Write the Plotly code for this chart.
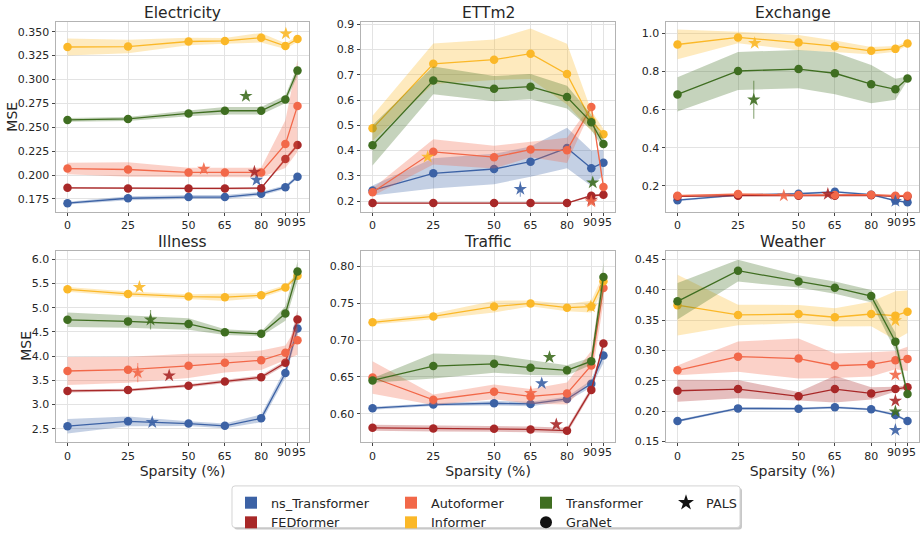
import plotly.graph_objects as go

# ---------------- data ----------------
sparsity = [0, 25, 50, 65, 80, 90, 95]
sparsity_labels = ["0", "25", "50", "65", "80", "90", "95"]
models = ["ns_Transformer", "FEDformer", "Autoformer", "Informer", "Transformer"]
datasets = ["Electricity", "ETTm2", "Exchange", "Illness", "Traffic", "Weather"]

electricity_mean = {
    "ns_Transformer": [0.1706, 0.1757, 0.1770, 0.1770, 0.1805, 0.1873, 0.1983],
    "FEDformer": [0.1866, 0.1860, 0.1860, 0.1860, 0.1863, 0.2167, 0.2314],
    "Autoformer": [0.2068, 0.2058, 0.2027, 0.2027, 0.2027, 0.2324, 0.2724],
    "Informer": [0.3340, 0.3345, 0.3398, 0.3404, 0.3438, 0.3350, 0.3425],
    "Transformer": [0.2577, 0.2587, 0.2645, 0.2673, 0.2673, 0.2792, 0.3093],
}
electricity_std = {
    "ns_Transformer": [0.0015, 0.002, 0.002, 0.002, 0.002, 0.002, 0.002],
    "FEDformer": [0.001, 0.001, 0.001, 0.001, 0.001, 0.002, 0.002],
    "Autoformer": [0.006, 0.0075, 0.005, 0.005, 0.005, 0.025, 0.048],
    "Informer": [0.009, 0.007, 0.004, 0.003, 0.005, 0.003, 0.003],
    "Transformer": [0.002, 0.002, 0.003, 0.004, 0.004, 0.004, 0.005],
}
electricity_pals_x = [78.1, 77.2, 56.3, 90.2, 73.7]
electricity_pals_y = [0.1948, 0.2034, 0.2064, 0.3480, 0.2827]
electricity_pals_err = [0, 0, 0, 0, 0]

ettm2_mean = {
    "ns_Transformer": [0.242, 0.310, 0.327, 0.356, 0.410, 0.330, 0.352],
    "FEDformer": [0.192, 0.192, 0.192, 0.192, 0.192, 0.221, 0.225],
    "Autoformer": [0.235, 0.395, 0.374, 0.404, 0.401, 0.573, 0.256],
    "Informer": [0.488, 0.744, 0.760, 0.784, 0.703, 0.518, 0.465],
    "Transformer": [0.421, 0.678, 0.645, 0.653, 0.612, 0.512, 0.426],
}
ettm2_std = {
    "ns_Transformer": [0.02, 0.06, 0.06, 0.06, 0.08, 0.07, 0.05],
    "FEDformer": [0.002, 0.002, 0.002, 0.002, 0.002, 0.005, 0.004],
    "Autoformer": [0.015, 0.05, 0.045, 0.03, 0.05, 0.01, 0.01],
    "Informer": [0.05, 0.08, 0.08, 0.10, 0.12, 0.04, 0.02],
    "Transformer": [0.08, 0.055, 0.05, 0.05, 0.045, 0.03, 0.02],
}
ettm2_pals_x = [60.8, 90.0, 90.0, 22.7, 90.6]
ettm2_pals_y = [0.247, 0.204, 0.198, 0.375, 0.273]
ettm2_pals_err = [0.03, 0, 0, 0, 0]

exchange_mean = {
    "ns_Transformer": [0.125, 0.152, 0.159, 0.169, 0.154, 0.123, 0.114],
    "FEDformer": [0.145, 0.149, 0.149, 0.149, 0.151, 0.145, 0.145],
    "Autoformer": [0.149, 0.157, 0.152, 0.152, 0.154, 0.149, 0.149],
    "Informer": [0.942, 0.979, 0.952, 0.933, 0.909, 0.919, 0.947],
    "Transformer": [0.680, 0.803, 0.813, 0.791, 0.734, 0.707, 0.764],
}
exchange_std = {
    "ns_Transformer": [0.005, 0.005, 0.005, 0.005, 0.005, 0.005, 0.005],
    "FEDformer": [0.003, 0.003, 0.003, 0.003, 0.003, 0.003, 0.003],
    "Autoformer": [0.004, 0.004, 0.004, 0.004, 0.004, 0.004, 0.004],
    "Informer": [0.078, 0.03, 0.04, 0.03, 0.02, 0.015, 0.01],
    "Transformer": [0.09, 0.10, 0.10, 0.11, 0.10, 0.055, 0.01],
}
exchange_pals_x = [90.0, 62.1, 43.9, 31.9, 31.5]
exchange_pals_y = [0.120, 0.157, 0.149, 0.949, 0.652]
exchange_pals_err = [0, 0, 0, 0, 0.10]

illness_mean = {
    "ns_Transformer": [2.554, 2.655, 2.608, 2.561, 2.716, 3.653, 4.570],
    "FEDformer": [3.282, 3.300, 3.390, 3.478, 3.566, 3.862, 4.759],
    "Autoformer": [3.694, 3.721, 3.802, 3.862, 3.916, 4.071, 4.328],
    "Informer": [5.380, 5.285, 5.231, 5.218, 5.258, 5.420, 5.663],
    "Transformer": [4.752, 4.719, 4.665, 4.496, 4.462, 4.880, 5.750],
}
illness_std = {
    "ns_Transformer": [0.15, 0.10, 0.05, 0.05, 0.08, 0.10, 0.10],
    "FEDformer": [0.03, 0.03, 0.03, 0.03, 0.04, 0.05, 0.20],
    "Autoformer": [0.29, 0.27, 0.25, 0.20, 0.20, 0.15, 0.30],
    "Informer": [0.05, 0.05, 0.05, 0.08, 0.05, 0.05, 0.05],
    "Transformer": [0.15, 0.13, 0.12, 0.06, 0.05, 0.15, 0.20],
}
illness_pals_x = [35.0, 42.0, 29.0, 29.7, 34.3]
illness_pals_y = [2.635, 3.600, 3.660, 5.427, 4.752]
illness_pals_err = [0, 0, 0.2, 0, 0.2]

traffic_mean = {
    "ns_Transformer": [0.6075, 0.6124, 0.6142, 0.6133, 0.6200, 0.6408, 0.6790],
    "FEDformer": [0.5809, 0.5800, 0.5796, 0.5787, 0.5770, 0.6324, 0.6953],
    "Autoformer": [0.6492, 0.6190, 0.6297, 0.6235, 0.6275, 0.6656, 0.7707],
    "Informer": [0.7242, 0.7322, 0.7455, 0.7499, 0.7441, 0.7455, 0.7800],
    "Transformer": [0.6452, 0.6647, 0.6678, 0.6625, 0.6590, 0.6714, 0.7858],
}
traffic_std = {
    "ns_Transformer": [0.002, 0.002, 0.003, 0.003, 0.003, 0.005, 0.010],
    "FEDformer": [0.004, 0.004, 0.004, 0.004, 0.004, 0.004, 0.005],
    "Autoformer": [0.022, 0.007, 0.010, 0.010, 0.015, 0.020, 0.020],
    "Informer": [0.003, 0.004, 0.008, 0.004, 0.005, 0.008, 0.010],
    "Transformer": [0.003, 0.017, 0.012, 0.010, 0.007, 0.005, 0.020],
}
traffic_pals_x = [69.6, 75.6, 65.1, 89.8, 72.8]
traffic_pals_y = [0.6412, 0.5854, 0.6280, 0.7455, 0.6767]
traffic_pals_err = [0, 0, 0.01, 0, 0]

weather_mean = {
    "ns_Transformer": [0.1838, 0.2046, 0.2041, 0.2063, 0.2030, 0.1939, 0.1838],
    "FEDformer": [0.2336, 0.2363, 0.2245, 0.2363, 0.2293, 0.2363, 0.2395],
    "Autoformer": [0.2673, 0.2898, 0.2866, 0.2748, 0.2770, 0.2839, 0.2861],
    "Informer": [0.3745, 0.3584, 0.3600, 0.3546, 0.3600, 0.3573, 0.3638],
    "Transformer": [0.3809, 0.4313, 0.4136, 0.4034, 0.3895, 0.3145, 0.2282],
}
weather_std = {
    "ns_Transformer": [0.002, 0.002, 0.002, 0.002, 0.002, 0.002, 0.002],
    "FEDformer": [0.018, 0.015, 0.007, 0.022, 0.010, 0.004, 0.003],
    "Autoformer": [0.008, 0.025, 0.033, 0.020, 0.020, 0.015, 0.020],
    "Informer": [0.050, 0.017, 0.015, 0.015, 0.020, 0.040, 0.035],
    "Transformer": [0.030, 0.018, 0.010, 0.010, 0.010, 0.015, 0.005],
}
weather_pals_x = [90.0, 90.0, 90.0, 90.0, 90.0]
weather_pals_y = [0.1688, 0.2170, 0.2598, 0.3493, 0.1993]
weather_pals_err = [0, 0, 0, 0, 0]

# ---------------- styling ----------------
colors = {
    "ns_Transformer": (60, 98, 165),
    "FEDformer": (168, 40, 40),
    "Autoformer": (242, 104, 73),
    "Informer": (251, 184, 40),
    "Transformer": (63, 110, 33),
}
FONT = "DejaVu Sans"
TXT = "#262626"

panels = [
    ("Electricity", electricity_mean, electricity_std, electricity_pals_x, electricity_pals_y, electricity_pals_err,
     [0.1617, 0.3606], 0.175, 0.025, ".3f"),
    ("ETTm2", ettm2_mean, ettm2_std, ettm2_pals_x, ettm2_pals_y, ettm2_pals_err,
     [0.158, 0.911], 0.2, 0.1, ".1f"),
    ("Exchange", exchange_mean, exchange_std, exchange_pals_x, exchange_pals_y, exchange_pals_err,
     [0.065, 1.062], 0.2, 0.2, ".1f"),
    ("Illness", illness_mean, illness_std, illness_pals_x, illness_pals_y, illness_pals_err,
     [2.231, 6.176], 2.5, 0.5, ".1f"),
    ("Traffic", traffic_mean, traffic_std, traffic_pals_x, traffic_pals_y, traffic_pals_err,
     [0.5618, 0.8213], 0.60, 0.05, ".2f"),
    ("Weather", weather_mean, weather_std, weather_pals_x, weather_pals_y, weather_pals_err,
     [0.1495, 0.464], 0.15, 0.05, ".2f"),
]

W, H = 923, 538
col_px = [(56, 309), (361, 615), (666, 919)]
row_px = [(19, 213), (253, 448)]
mse_x_px = [12, 26.5]          # centre of the rotated "MSE" label per row
pair_shift = {90: -1.4, 95: 1.4}  # nudge the crowded 90/95 labels apart


def rgba(c, a):
    return "rgba(%d,%d,%d,%s)" % (c[0], c[1], c[2], a)


fig = go.Figure()
layout = dict(
    width=W, height=H, margin=dict(l=0, r=0, t=0, b=0),
    paper_bgcolor="white", plot_bgcolor="white",
    font=dict(family=FONT, color=TXT),
    showlegend=True,
)
annotations = []

for i, (name, means, stds, px_, py_, pe_, yrange, t0, dt, fmt) in enumerate(panels):
    r, c = divmod(i, 3)
    k = i + 1
    xa = "x" if k == 1 else "x%d" % k
    ya = "y" if k == 1 else "y%d" % k
    x0p, x1p = col_px[c]
    y0p, y1p = row_px[r]
    xdom = [x0p / W, x1p / W]
    ydom = [1 - y1p / H, 1 - y0p / H]

    for m in models:
        col = colors[m]
        mu = means[m]
        sd = stds[m]
        upper = [a + b for a, b in zip(mu, sd)]
        lower = [a - b for a, b in zip(mu, sd)]
        fig.add_trace(go.Scatter(
            x=sparsity + sparsity[::-1], y=upper + lower[::-1],
            fill="toself", fillcolor=rgba(col, 0.3), line=dict(width=0),
            mode="lines", hoverinfo="skip", showlegend=False, xaxis=xa, yaxis=ya))
        fig.add_trace(go.Scatter(
            x=sparsity, y=mu, mode="lines+markers",
            line=dict(color=rgba(col, 1), width=1.3),
            marker=dict(color=rgba(col, 1), size=8.5),
            showlegend=False, xaxis=xa, yaxis=ya, name=m))
    for j, m in enumerate(models):
        col = colors[m]
        fig.add_trace(go.Scatter(
            x=[px_[j]], y=[py_[j]], mode="markers",
            marker=dict(symbol="star", size=10, color=rgba(col, 0.9), line=dict(width=0)),
            error_y=dict(type="data", array=[pe_[j]], visible=pe_[j] > 0,
                         color=rgba(col, 0.55), thickness=1.2, width=0),
            showlegend=False, xaxis=xa, yaxis=ya, name=m + " PALS"))

    xkey = "xaxis" if k == 1 else "xaxis%d" % k
    ykey = "yaxis" if k == 1 else "yaxis%d" % k
    ticktext = ["" if v in pair_shift else lab for v, lab in zip(sparsity, sparsity_labels)]
    layout[xkey] = dict(
        domain=xdom, anchor=ya, range=[-4.75, 99.75],
        tickmode="array", tickvals=sparsity, ticktext=ticktext, tickangle=0,
        showgrid=True, gridcolor="#e3e3e3", gridwidth=1, zeroline=False,
        showline=True, linecolor="#b3b3b3", linewidth=1, mirror=True,
        ticks="outside", ticklen=3.5, tickwidth=1, tickcolor="#444",
        tickfont=dict(size=11, color=TXT, family=FONT),
        title=dict(text="Sparsity (%)" if r == 1 else "", font=dict(size=14, color=TXT, family=FONT),
                   standoff=4),
    )
    layout[ykey] = dict(
        domain=ydom, anchor=xa, range=yrange,
        tick0=t0, dtick=dt, tickformat=fmt,
        showgrid=True, gridcolor="#e3e3e3", gridwidth=1, zeroline=False,
        showline=True, linecolor="#b3b3b3", linewidth=1, mirror=True,
        ticks="outside", ticklen=3.5, tickwidth=1, tickcolor="#444",
        tickfont=dict(size=11, color=TXT, family=FONT),
    )
    # crowded 90 / 95 tick labels, nudged apart so they touch like the original
    for v, lab in zip(sparsity, sparsity_labels):
        if v in pair_shift:
            annotations.append(dict(
                text=lab, xref=xa, yref=ya + " domain", x=v, y=0,
                xanchor="center", yanchor="top", xshift=pair_shift[v], yshift=-3,
                showarrow=False, borderpad=0,
                font=dict(size=11, color=TXT, family=FONT)))
    annotations.append(dict(
        text=name, xref="paper", yref="paper",
        x=(xdom[0] + xdom[1]) / 2, y=1 - ((y0p - 9) / H),
        xanchor="center", yanchor="middle", showarrow=False,
        font=dict(size=15.5, color=TXT, family=FONT)))
    if c == 0:
        annotations.append(dict(
            text="MSE", xref="paper", yref="paper", textangle=-90,
            x=mse_x_px[r] / W, y=(ydom[0] + ydom[1]) / 2,
            xanchor="center", yanchor="middle", showarrow=False,
            font=dict(size=14, color=TXT, family=FONT)))

# ---------------- legend ----------------
legend_cols = [
    [("ns_Transformer", "square", colors["ns_Transformer"]), ("FEDformer", "square", colors["FEDformer"])],
    [("Autoformer", "square", colors["Autoformer"]), ("Informer", "square", colors["Informer"])],
    [("Transformer", "square", colors["Transformer"]), ("GraNet", "circle", (17, 17, 17))],
    [("PALS", "star", (17, 17, 17))],
]
legend_x_px = [231, 391, 526, 666]
legend_top_px = 495
for li, entries in enumerate(legend_cols):
    lkey = "legend" if li == 0 else "legend%d" % (li + 1)
    for (lab, sym, col) in entries:
        fig.add_trace(go.Scatter(
            x=[None], y=[None], mode="markers", name=lab,
            marker=dict(symbol=sym, size=12, color=rgba(col, 1)),
            showlegend=True, legend=lkey, xaxis="x", yaxis="y"))
    layout[lkey] = dict(
        x=legend_x_px[li] / W, y=1 - legend_top_px / H, xanchor="left", yanchor="top",
        orientation="v", bgcolor="rgba(0,0,0,0)", borderwidth=0, tracegroupgap=0,
        font=dict(size=12.8, color=TXT, family=FONT))


# legend box with shadow (rounded rectangle)
def rounded_rect(x0, y0, x1, y1, rad):
    rx, ry = rad / W, rad / H
    X0, X1 = x0 / W, x1 / W
    Y0, Y1 = 1 - y1 / H, 1 - y0 / H
    return ("M %f,%f L %f,%f Q %f,%f %f,%f L %f,%f Q %f,%f %f,%f L %f,%f Q %f,%f %f,%f "
            "L %f,%f Q %f,%f %f,%f Z") % (
        X0 + rx, Y0, X1 - rx, Y0, X1, Y0, X1, Y0 + ry, X1, Y1 - ry, X1, Y1, X1 - rx, Y1,
        X0 + rx, Y1, X0, Y1, X0, Y1 - ry, X0, Y0 + ry, X0, Y0, X0 + rx, Y0)


shapes = [
    dict(type="path", xref="paper", yref="paper", layer="below",
         path=rounded_rect(234, 495, 742, 537.5, 3), fillcolor="#c8c8c8", line=dict(width=0)),
    dict(type="path", xref="paper", yref="paper", layer="below",
         path=rounded_rect(232, 493, 740, 535.5, 3), fillcolor="white", line=dict(color="#d4d4d4", width=1)),
]

layout["annotations"] = annotations
layout["shapes"] = shapes
fig.update_layout(**layout)
fig.write_html("out.html")
